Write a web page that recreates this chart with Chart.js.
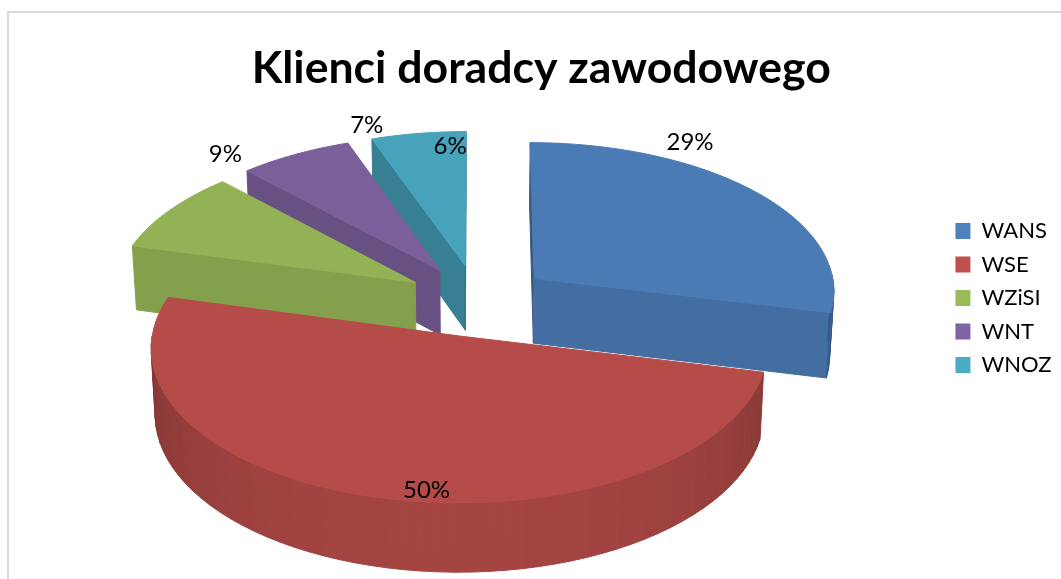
<!DOCTYPE html>
<html>
<head>
<meta charset="utf-8">
<style>
    body { margin: 0; background: #fff; }
    #frame { position: absolute; left: 7px; top: 11px; width: 1060px; height: 580px; border: 2px solid #d9d9d9; box-sizing: border-box; }
    canvas { position: absolute; left: 0; top: 0; }
    html, body { width: 1061px; height: 579px; overflow: hidden; }
</style>
<script src="https://cdn.jsdelivr.net/npm/chart.js@4/dist/chart.umd.min.js"></script>
</head>
<body>
<div id="frame"></div>
<canvas id="pieChart" width="1061" height="579"></canvas>
<script>
const categories = ["WANS", "WSE", "WZiSI", "WNT", "WNOZ"];
const percents = [28.7, 50.4, 8.8, 6.6, 5.5];
const colors = ["#4f81bd", "#c0504d", "#9bbb59", "#8064a2", "#4bacc6"];

// label shift from the tip of each slice, in pixels
const labelShiftX = [156, -33, -190, -73, -15];
const labelShiftY = [-136, 154, -128, -145, -119];

// the drawing order, back to front
const drawOrder = [4, 3, 2, 0, 1];

const explode = 51;
const camera = { x: 477.5, y: 300.5, a: 302, b: 149, h: 66, p: 0.074, taper: 0.012 };

function project(X, Y, z) {
    let w = (1 / (1 - camera.p * Y)) * (1 + camera.taper * z);
    return [camera.x + camera.a * X * w, camera.y + (camera.b * Y - camera.h * z) * w];
}

function tint(hex, k) {
    let n = parseInt(hex.slice(1), 16);
    let r = Math.round(((n >> 16) & 255) * k);
    let g = Math.round(((n >> 8) & 255) * k);
    let b = Math.round((n & 255) * k);
    return `rgb(${r},${g},${b})`;
}

function wallShade(normalY) {
    return 0.68 + 0.18 * Math.max(normalY, 0);
}

function fillPoly(ctx, points, color) {
    ctx.beginPath();
    points.forEach((p, i) => i ? ctx.lineTo(p[0], p[1]) : ctx.moveTo(p[0], p[1]));
    ctx.closePath();
    ctx.fillStyle = color;
    ctx.strokeStyle = color;
    ctx.lineWidth = 1;
    ctx.fill();
    ctx.stroke();
}

function sliceGeometry(arc) {
    let props = arc.getProps(["startAngle", "endAngle", "outerRadius"], true);
    let mid = (props.startAngle + props.endAngle) / 2;
    let e = arc.options.offset / props.outerRadius;
    return { start: props.startAngle, end: props.endAngle, cx: Math.cos(mid) * e, cy: Math.sin(mid) * e };
}

function drawSlice(ctx, arc, color) {
    let g = sliceGeometry(arc);
    let steps = Math.max(4, Math.ceil((g.end - g.start) / (Math.PI / 60)));
    let rim = [];
    for (let i = 0; i <= steps; i++) {
        let a = g.start + (g.end - g.start) * i / steps;
        rim.push([a, g.cx + Math.cos(a), g.cy + Math.sin(a)]);
    }

    // only the walls turned towards the viewer
    let tipTop = project(g.cx, g.cy, 0);
    let tipLow = project(g.cx, g.cy, -1);
    let first = rim[0];
    let last = rim[steps];
    let startNormal = Math.sin(g.start - Math.PI / 2);
    let endNormal = Math.sin(g.end + Math.PI / 2);
    if (startNormal > -0.01) {
        fillPoly(ctx, [tipTop, project(first[1], first[2], 0), project(first[1], first[2], -1), tipLow],
            tint(color, wallShade(startNormal)));
    }
    if (endNormal > -0.01) {
        fillPoly(ctx, [tipTop, project(last[1], last[2], 0), project(last[1], last[2], -1), tipLow],
            tint(color, wallShade(endNormal)));
    }
    for (let i = 0; i < steps; i++) {
        let p = rim[i];
        let q = rim[i + 1];
        let normal = Math.sin((p[0] + q[0]) / 2);
        if (normal > 0) {
            fillPoly(ctx, [project(p[1], p[2], 0), project(q[1], q[2], 0), project(q[1], q[2], -1), project(p[1], p[2], -1)],
                tint(color, wallShade(normal)));
        }
    }

    // top face
    let top = [tipTop];
    rim.forEach((p) => top.push(project(p[1], p[2], 0)));
    fillPoly(ctx, top, tint(color, 0.95));
}

const pie3d = {
    id: "pie3d",
    beforeDatasetDraw(chart) {
        let ctx = chart.ctx;
        let arcs = chart.getDatasetMeta(0).data;
        drawOrder.forEach((i) => drawSlice(ctx, arcs[i], colors[i]));
        return false;
    },
    afterDatasetsDraw(chart) {
        let ctx = chart.ctx;
        ctx.save();
        ctx.font = "24px Lato";
        ctx.fillStyle = "#000";
        ctx.textAlign = "center";
        ctx.textBaseline = "middle";
        chart.getDatasetMeta(0).data.forEach((arc, i) => {
            let g = sliceGeometry(arc);
            let tip = project(g.cx, g.cy, 0);
            ctx.fillText(Math.round(percents[i]) + "%", tip[0] + labelShiftX[i], tip[1] + labelShiftY[i]);
        });
        ctx.restore();
    }
};

let pieChartCanvas = document.getElementById("pieChart").getContext("2d");
let pieChart = new Chart(pieChartCanvas, {
    type: "pie",
    data: {
        labels: categories,
        datasets: [{
            data: percents,
            backgroundColor: colors,
            borderWidth: 0,
            offset: explode,
            hoverOffset: 0
        }]
    },
    options: {
        responsive: false,
        animation: false,
        layout: { padding: { top: 17, left: 21, right: -0.5, bottom: 0 } },
        plugins: {
            title: {
                display: true,
                text: "Klienci doradcy zawodowego",
                color: "#000",
                font: { family: "Lato", size: 44.6, weight: "bold" },
                padding: { top: 25, bottom: 10 }
            },
            legend: {
                position: "right",
                labels: {
                    color: "#000",
                    font: { family: "Lato", size: 22 },
                    boxWidth: 15,
                    boxHeight: 16,
                    padding: 11.5
                }
            },
            tooltip: { enabled: false }
        }
    },
    plugins: [pie3d]
});
</script>
</body>
</html>
